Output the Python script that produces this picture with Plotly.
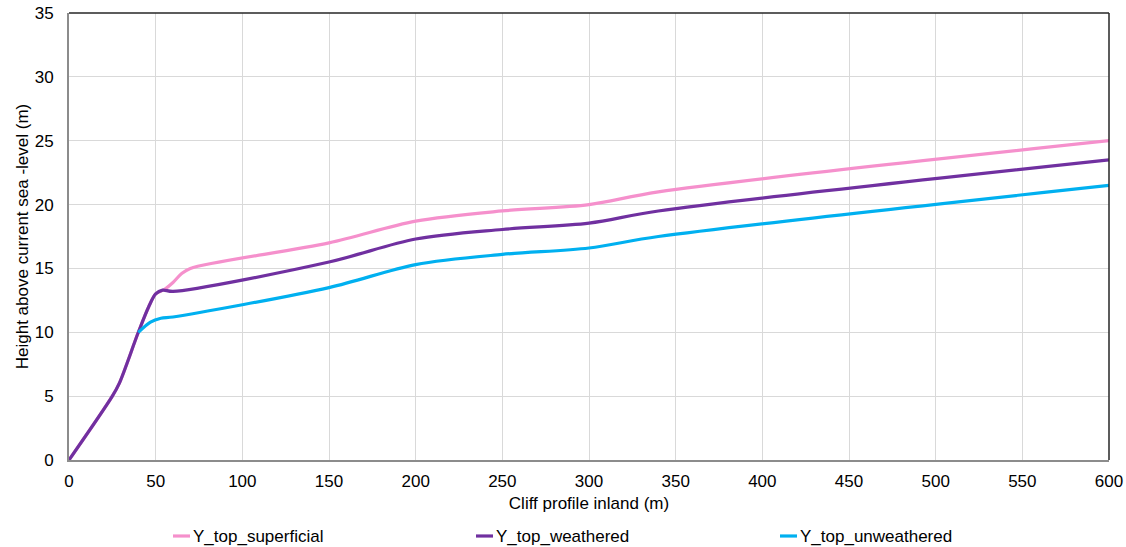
import plotly.graph_objects as go

# Cliff profile: distance inland (m) and height of each layer top (m)
x_superficial = [0, 25, 29, 40, 46, 50, 55, 60, 65, 70, 150, 200, 250, 300, 340, 600]
y_superficial = [0, 5.0, 6.0, 10, 12.0, 13.0, 13.35, 13.9, 14.6, 15.0, 17.0, 18.7, 19.5, 20.0, 21.0, 25.0]

x_weathered = [0, 25, 29, 40, 46, 50, 54, 60, 150, 200, 250, 300, 340, 600]
y_weathered = [0, 5.0, 6.0, 10, 12.0, 13.0, 13.3, 13.2, 15.5, 17.3, 18.05, 18.55, 19.5, 23.5]

x_unweathered = [40, 47, 53, 60, 150, 200, 250, 300, 340, 600]
y_unweathered = [10, 10.8, 11.1, 11.2, 13.5, 15.3, 16.1, 16.6, 17.5, 21.5]

series_names = ["Y_top_superficial", "Y_top_weathered", "Y_top_unweathered"]
series_colors = ["#F590CC", "#7030A0", "#00B0F0"]

x_ticks = list(range(0, 601, 50))
y_ticks = list(range(0, 36, 5))

FONT = "Liberation Sans, Arial, sans-serif"
TEXT = "#000000"

fig = go.Figure()
for name, xs, ys, col in zip(series_names,
                             [x_superficial, x_weathered, x_unweathered],
                             [y_superficial, y_weathered, y_unweathered],
                             series_colors):
    fig.add_trace(go.Scatter(
        x=xs, y=ys, name=name, mode="lines",
        line=dict(color=col, width=3.2, shape="spline", smoothing=0.9),
        showlegend=False,
    ))

# Plot-area geometry (px) used for the hand-placed legend
L, R, T, B = 69, 17, 13, 87
W, H = 1126, 547
pw, ph = W - L - R, H - T - B

def px_x(p):
    return (p - L) / pw

def px_y(p):
    return (H - B - p) / ph

legend_starts = [173, 476, 780]
legend_y = 536
shapes = []
annotations = []
for name, col, sx in zip(series_names, series_colors, legend_starts):
    shapes.append(dict(type="line", xref="paper", yref="paper",
                       x0=px_x(sx), x1=px_x(sx + 17), y0=px_y(legend_y), y1=px_y(legend_y),
                       line=dict(color=col, width=3.2)))
    annotations.append(dict(xref="paper", yref="paper", x=px_x(sx + 18), y=px_y(legend_y),
                            xanchor="left", yanchor="middle", showarrow=False,
                            text=name, font=dict(family=FONT, size=17, color=TEXT)))

# dark top and right frame edges
shapes.append(dict(type="line", xref="paper", yref="paper", x0=0, x1=1, y0=1, y1=1,
                   line=dict(color="#262626", width=1.5)))
shapes.append(dict(type="line", xref="paper", yref="paper", x0=1, x1=1, y0=0, y1=1,
                   line=dict(color="#262626", width=1.5)))

fig.update_layout(
    width=W, height=H,
    margin=dict(l=L, r=R, t=T, b=B, autoexpand=False),
    paper_bgcolor="white", plot_bgcolor="white",
    font=dict(family=FONT, size=17, color=TEXT),
    shapes=shapes, annotations=annotations,
    xaxis=dict(
        range=[0, 600], tickvals=x_ticks, ticktext=[str(v) for v in x_ticks],
        showgrid=True, gridcolor="#D9D9D9", gridwidth=1,
        showline=True, linecolor="#8C8C8C", linewidth=2,
        zeroline=False, ticks="", ticklabelstandoff=5,
        tickfont=dict(size=17, family=FONT, color=TEXT),
        title=dict(text="Cliff profile inland (m)", standoff=7,
                   font=dict(size=17, family=FONT, color=TEXT)),
    ),
    yaxis=dict(
        range=[0, 35], tickvals=y_ticks, ticktext=[str(v) for v in y_ticks],
        showgrid=True, gridcolor="#D9D9D9", gridwidth=1,
        showline=True, linecolor="#8C8C8C", linewidth=2,
        zeroline=False, ticks="", ticklabelstandoff=10,
        tickfont=dict(size=17, family=FONT, color=TEXT),
        title=dict(text="Height above current sea -level (m)", standoff=2,
                   font=dict(size=17, family=FONT, color=TEXT)),
    ),
)

fig.write_html("out.html")
